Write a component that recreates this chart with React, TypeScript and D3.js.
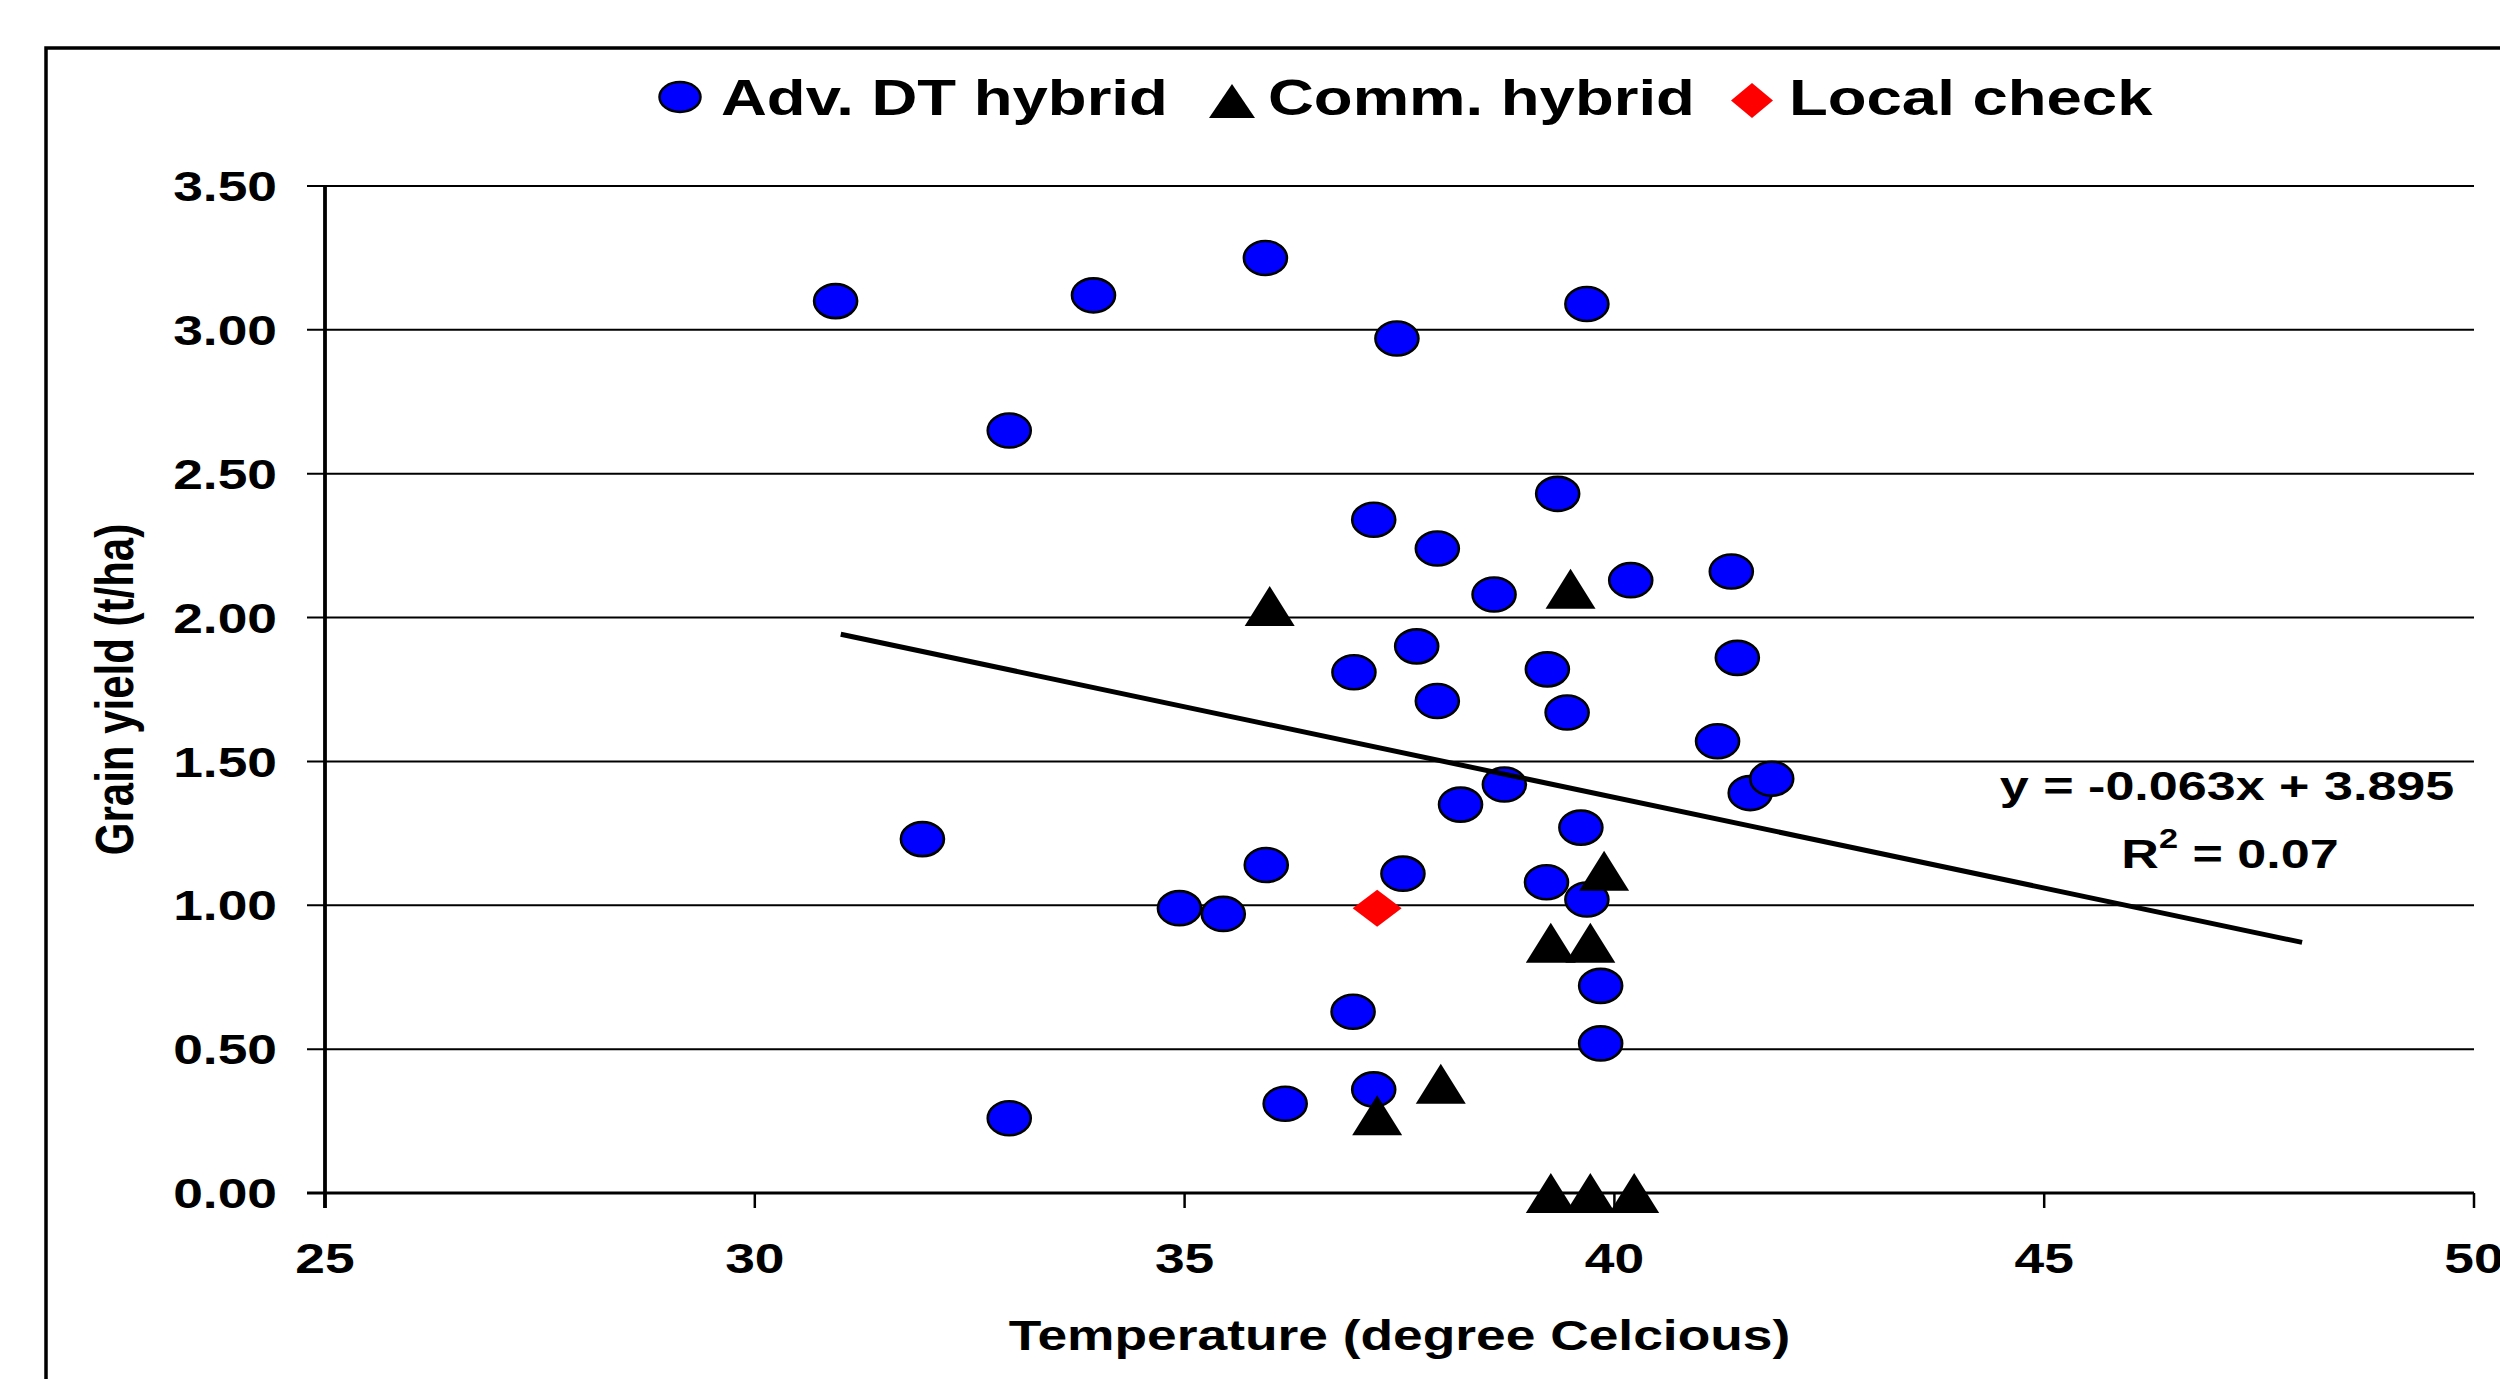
import { useEffect } from "react";
import * as d3 from "d3";

// Adv. DT hybrid (blue circles)
const advTemp = [30.94, 33.94, 35.94, 32.96, 39.68, 37.47, 39.34, 37.2, 37.94, 38.6, 40.19, 41.36, 37.7, 36.97, 39.22, 41.43, 37.94, 39.45, 41.2, 41.58, 41.83, 38.72, 38.21, 39.61, 37.54, 35.95, 39.21, 39.68, 31.95, 34.94, 35.45, 39.84, 36.96, 39.84, 37.2, 36.17, 32.96];
const advYield = [3.1, 3.12, 3.25, 2.65, 3.09, 2.97, 2.43, 2.34, 2.24, 2.08, 2.13, 2.16, 1.9, 1.81, 1.82, 1.86, 1.71, 1.67, 1.57, 1.39, 1.44, 1.42, 1.35, 1.27, 1.11, 1.14, 1.08, 1.02, 1.23, 0.99, 0.97, 0.72, 0.63, 0.52, 0.36, 0.31, 0.26];

// Comm. hybrid (black triangles)
const commTemp = [35.99, 39.49, 39.88, 39.26, 39.72, 37.98, 37.24, 39.26, 39.72, 40.23];
const commYield = [2.04, 2.1, 1.12, 0.87, 0.87, 0.38, 0.27, 0, 0, 0];

// Local check (red diamond)
const localTemp = [37.24];
const localYield = [0.99];

// linear trend shown on the chart
const trendX = [31, 48];
const trendSlope = -0.063;
const trendIntercept = 3.895;

const xTicks = [25, 30, 35, 40, 45, 50];
const yTicks = [0, 0.5, 1, 1.5, 2, 2.5, 3, 3.5];

const legendItems = ["Adv. DT hybrid", "Comm. hybrid", "Local check"];

const W = 2500;
const H = 1379;
const SX = 1.27; // the original picture is stretched sideways
const FONT = "'Liberation Sans', Arial, Helvetica, sans-serif";

const triPath = (cx: number, cy: number) =>
  `M${cx},${cy - 20}L${cx + 25},${cy + 20}L${cx - 25},${cy + 20}Z`;
const diaPath = (cx: number, cy: number) =>
  `M${cx},${cy - 18.5}L${cx + 24.5},${cy}L${cx},${cy + 18.5}L${cx - 24.5},${cy}Z`;

const SText = (props: any) => {
  const { x, y, children, ...rest } = props;
  return (
    <text transform={`translate(${x},${y}) scale(${SX},1)`} fontFamily={FONT} fontWeight="bold" fill="#000" {...rest}>
      {children}
    </text>
  );
};

const App = () => {
  useEffect(() => {
    document.body.style.margin = "0";
    document.body.style.overflow = "hidden";
  }, []);

  const x = d3.scaleLinear().domain([25, 50]).range([325, 2474]);
  const y = d3.scaleLinear().domain([0, 3.5]).range([1193, 186]);
  const fmt = d3.format(".2f");

  const trend = d3
    .line<number>()
    .x((d) => x(d))
    .y((d) => y(trendSlope * d + trendIntercept));

  return (
    <svg width={W} height={H} style={{ display: "block", background: "#fff" }}>
      {/* chart frame */}
      <rect x={46} y={48} width={W} height={H} fill="none" stroke="#000" strokeWidth={3.5} />

      {/* legend */}
      <g>
        <ellipse cx={680} cy={97} rx={20.5} ry={15} fill="#0000ff" stroke="#000" strokeWidth={2.5} />
        <SText x={721} y={115} fontSize={50}>{legendItems[0]}</SText>
        <path d="M1232,84L1255,118L1209,118Z" fill="#000" />
        <SText x={1268} y={115} fontSize={50}>{legendItems[1]}</SText>
        <path d="M1752,83L1773,100.5L1752,118L1731,100.5Z" fill="#ff0000" />
        <SText x={1789} y={115} fontSize={50}>{legendItems[2]}</SText>
      </g>

      {/* gridlines + y ticks */}
      {yTicks.map((t) => (
        <g key={"y" + t}>
          {t > 0 && <line x1={307} x2={2474} y1={y(t)} y2={y(t)} stroke="#000" strokeWidth={2} />}
          <SText x={277} y={y(t)} dy="0.36em" fontSize={42} textAnchor="end">
            {fmt(t)}
          </SText>
        </g>
      ))}

      {/* x axis */}
      <line x1={307} x2={2474} y1={y(0)} y2={y(0)} stroke="#000" strokeWidth={3.2} />
      {xTicks.map((t) => (
        <g key={"x" + t}>
          <line x1={x(t)} x2={x(t)} y1={y(0)} y2={y(0) + 15} stroke="#000" strokeWidth={2.5} />
          <SText x={x(t)} y={1273} fontSize={42} textAnchor="middle">
            {t}
          </SText>
        </g>
      ))}
      {/* y axis */}
      <line x1={x(25)} x2={x(25)} y1={y(3.5)} y2={y(0) + 15} stroke="#000" strokeWidth={3.8} />

      {/* axis titles */}
      <SText x={(x(25) + x(50)) / 2} y={1350} fontSize={42} textAnchor="middle">
        Temperature (degree Celcious)
      </SText>
      <text
        transform={`translate(133,${(y(0) + y(3.5)) / 2}) scale(${SX},1) rotate(-90)`}
        fontFamily={FONT}
        fontWeight="bold"
        fontSize={42}
        textAnchor="middle"
      >
        Grain yield (t/ha)
      </text>

      {/* points */}
      {advTemp.map((t, i) => (
        <ellipse key={"a" + i} cx={x(t)} cy={y(advYield[i])} rx={21.5} ry={17} fill="#0000ff" stroke="#000" strokeWidth={2.6} />
      ))}
      {commTemp.map((t, i) => (
        <path key={"c" + i} d={triPath(x(t), y(commYield[i]))} fill="#000" />
      ))}
      {localTemp.map((t, i) => (
        <path key={"l" + i} d={diaPath(x(t), y(localYield[i]))} fill="#ff0000" />
      ))}

      {/* trend line */}
      <path d={trend(trendX) || ""} fill="none" stroke="#000" strokeWidth={5} />

      <SText x={2227} y={800} fontSize={41} textAnchor="middle">
        y = -0.063x + 3.895
      </SText>
      <SText x={2230} y={868} fontSize={41} textAnchor="middle">
        R
        <tspan fontSize={27} dy={-20}>2</tspan>
        <tspan dy={20}> = 0.07</tspan>
      </SText>
    </svg>
  );
};

export default App;
